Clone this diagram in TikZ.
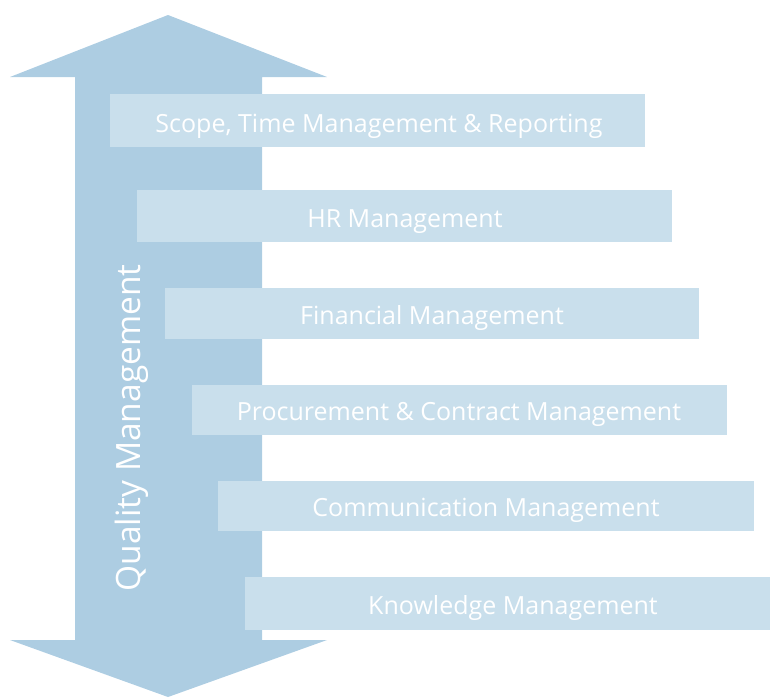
\documentclass[tikz,border=0pt]{standalone}
\usepackage{fontspec}
\setmainfont[Ligatures=NoCommon]{Open Sans}
\definecolor{arrowblue}{HTML}{ADCDE2}
\definecolor{barblue}{HTML}{C9DFEC}
\begin{document}
\begin{tikzpicture}[x=1pt,y=-1pt,
  lbl/.style={text=white, font=\fontsize{25}{30}\selectfont, inner sep=0pt, anchor=base},
  qlbl/.style={text=white, font=\fontsize{33.5}{40}\selectfont, inner sep=0pt, anchor=base}]
\useasboundingbox (0,0) rectangle (770,697);
\fill[arrowblue] (168,15) -- (327,77) -- (262,77) -- (262,640) -- (327,640) -- (168,697)
  -- (10,640) -- (75,640) -- (75,77) -- (10,77) -- cycle;
\node[qlbl, rotate=90] (q) at (140,428) {Quality Management};
\fill[barblue] (110,94) rectangle (645,147);
\node[lbl] (b1) at (379,132) {Scope, Time Management \& Reporting};
\fill[barblue] (137,190) rectangle (672,242);
\node[lbl] (b2) at (405,227) {HR Management};
\fill[barblue] (165,288) rectangle (699,339);
\node[lbl] (b3) at (432,324) {Financial Management};
\fill[barblue] (192,385) rectangle (727,435);
\node[lbl] (b4) at (459,420) {Procurement \& Contract Management};
\fill[barblue] (218,481) rectangle (754,531);
\node[lbl] (b5) at (486,516) {Communication Management};
\fill[barblue] (245,577) rectangle (770,630);
\node[lbl] (b6) at (513,614) {Knowledge Management};
\end{tikzpicture}
\end{document}
